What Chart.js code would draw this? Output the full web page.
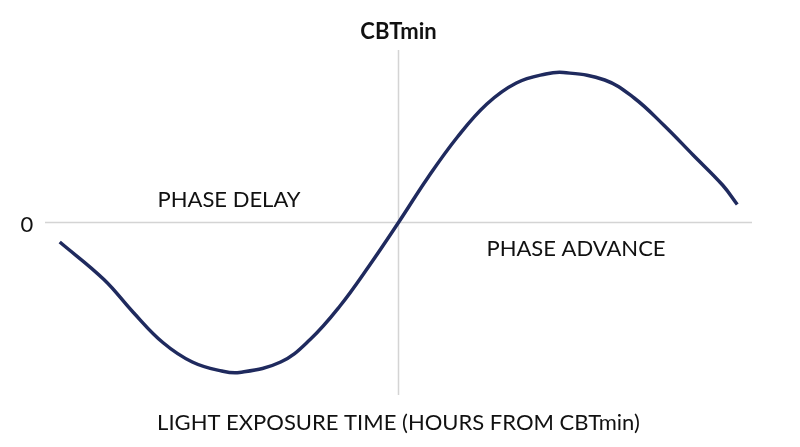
<!DOCTYPE html>
<html><head><meta charset="utf-8">
<script src="https://cdn.jsdelivr.net/npm/chart.js@4"></script>
<style>html,body{margin:0;padding:0;background:#fff}#w{width:800px;height:447px}</style>
</head><body><div id="w"><canvas id="c"></canvas></div>
<script>
const hours = [-11.5,-10,-9,-8,-7,-6,-5.4,-4,-3,-2,-1,0,1,2,3,4,5,5.6,7,8,9,10,11,11.5];
const shift = [-0.13,-0.38,-0.60,-0.80,-0.93,-0.99,-1.0,-0.93,-0.78,-0.56,-0.29,0,0.30,0.57,0.79,0.93,0.99,1.0,0.95,0.83,0.65,0.45,0.25,0.12];
const topLabel = "CBTmin", zeroLabel = "0", delayLabel = "PHASE DELAY", advanceLabel = "PHASE ADVANCE";
const xTitle = "LIGHT EXPOSURE TIME (HOURS FROM CBTmin)";
const F = "Lato, 'Open Sans', sans-serif";
const deco = {
  id:'deco',
  beforeDatasetsDraw(ch){
    const {ctx, scales:{x,y}} = ch;
    ctx.save(); ctx.strokeStyle='#d4d4d4'; ctx.lineWidth=1.5;
    ctx.beginPath(); ctx.moveTo(x.left,y.getPixelForValue(0)); ctx.lineTo(x.right,y.getPixelForValue(0));
    ctx.moveTo(x.getPixelForValue(0),y.top); ctx.lineTo(x.getPixelForValue(0),y.bottom); ctx.stroke(); ctx.restore();
  },
  afterDraw(ch){
    const {ctx, scales:{x,y}} = ch;
    ctx.save(); ctx.fillStyle='#111'; ctx.textBaseline='middle'; ctx.textAlign='center';
    ctx.font='bold 22px '+F; ctx.fillText(topLabel, x.getPixelForValue(0), 32);
    ctx.font='22px '+F;
    ctx.fillText(zeroLabel, 27, y.getPixelForValue(0)+2);
    ctx.fillText(delayLabel, 229, 200);
    ctx.fillText(advanceLabel, 576, 249);
    ctx.fillText(xTitle, x.getPixelForValue(0), 423);
    ctx.restore();
  }
};
new Chart(document.getElementById('c'),{
  type:'line',
  data:{datasets:[{data:hours.map((h,i)=>({x:h,y:shift[i]})),borderColor:'#1f2a5e',borderWidth:3.5,pointRadius:0,tension:0.4,fill:false}]},
  options:{responsive:true,maintainAspectRatio:false,animation:false,
    layout:{padding:{left:45,right:48,top:50,bottom:52}},
    plugins:{legend:{display:false},tooltip:{enabled:false}},
    scales:{x:{type:'linear',min:-12,max:12,display:false},y:{min:-1.15,max:1.15,display:false}}},
  plugins:[deco]
});
</script></body></html>
